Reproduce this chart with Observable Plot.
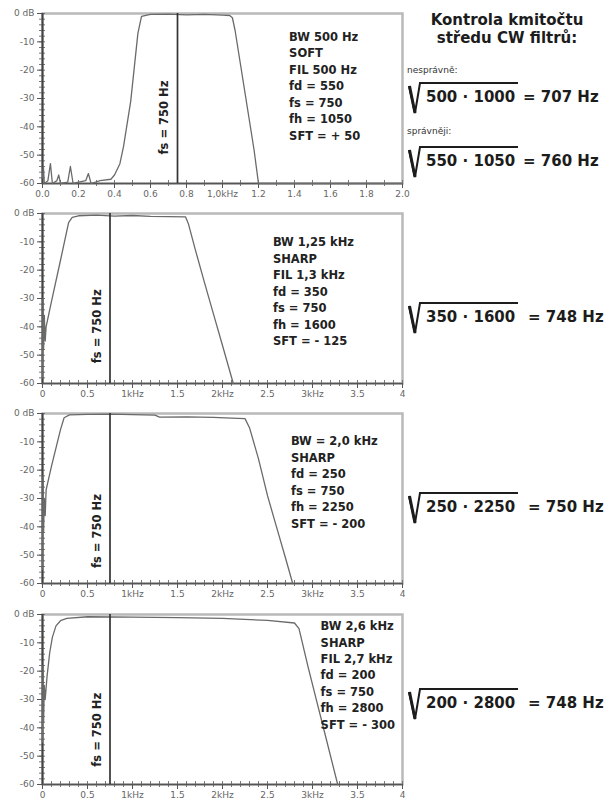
<!DOCTYPE html>
<html><head><meta charset="utf-8">
<script src="https://cdn.jsdelivr.net/npm/d3@7"></script>
<script src="https://cdn.jsdelivr.net/npm/@observablehq/plot@0.6"></script>
<style>
body{margin:0;background:#fff;}
#root{position:relative;width:614px;height:803px;overflow:hidden;font-family:"DejaVu Sans",sans-serif;color:#1c1c1c;}
.panel{position:absolute;left:0;}
.panel svg{display:block;}
.t{position:absolute;white-space:nowrap;}
</style></head><body><div id="root"></div>
<script>
// ---------- data ----------
const p1Freq = [0,0.005,0.01,0.03,0.044,0.055,0.08,0.09,0.1,0.14,0.155,0.17,0.2,0.24,0.255,0.27,0.32,0.38,0.40,0.43,0.45,0.49,0.51,0.53,0.55,0.6,0.7,0.8,0.9,1.0,1.04,1.055,1.07,1.10,1.145,1.175,1.2,2.0];
const p1dB   = [-58,-54,-60,-59,-53,-60,-59,-57,-60,-59.5,-54,-60,-59.5,-59,-56.5,-60,-59,-58.5,-57,-53,-47,-31,-19,-7,-1,-0.3,-0.2,-0.5,-0.3,-0.6,-0.7,-1.5,-6,-18,-36,-48,-60,-60];
const p2Freq = [0,0.005,0.012,0.02,0.03,0.04,0.1,0.2,0.29,0.33,0.4,0.6,0.8,1.0,1.2,1.4,1.59,1.62,1.7,1.8,1.9,2.0,2.12];
const p2dB   = [-58,-30,-48,-36,-45,-40,-31,-16.5,-3.2,-1.4,-0.8,-0.6,-0.9,-0.7,-1.0,-1.1,-1.2,-3.5,-13,-24.4,-35.5,-46.6,-60];
const p3Freq = [0,0.005,0.012,0.02,0.03,0.04,0.1,0.2,0.24,0.3,0.5,0.75,1.0,1.25,1.3,1.6,1.9,2.1,2.25,2.3,2.4,2.5,2.6,2.7,2.78];
const p3dB   = [-55,-22,-42,-30,-36,-27,-18.6,-5.7,-1.5,-0.5,-0.3,-0.2,-0.4,-0.6,-1.3,-1.2,-1.4,-1.6,-1.8,-5,-16,-29,-40,-51,-60];
const p4Freq = [0,0.005,0.012,0.02,0.03,0.05,0.08,0.11,0.15,0.2,0.27,0.5,1.0,1.5,2.0,2.5,2.8,2.85,2.95,3.05,3.15,3.28];
const p4dB   = [-45,-18,-38,-25,-30,-22,-13.5,-8,-4,-2.2,-1.4,-0.8,-0.9,-1.1,-1.4,-2.1,-3,-5,-18.4,-31,-43.6,-60];

const xTicksNarrow  = [0,0.2,0.4,0.6,0.8,1.0,1.2,1.4,1.6,1.8,2.0];
const xLabelsNarrow = ["0.0","0.2","0.4","0.6","0.8","1,0kHz","1.2","1.4","1.6","1.8","2.0"];
const xTicksWide    = [0,0.5,1,1.5,2,2.5,3,3.5,4];
const xLabelsWide   = ["0","0.5","1kHz","1.5","2kHz","2.5","3kHz","3.5","4"];
const yTicks        = [0,-10,-20,-30,-40,-50,-60];
const yLabels       = ["0 dB","-10","-20","-30","-40","-50","-60"];

const fsFreq = 0.75;
const fsLabel = "fs = 750 Hz";

const info1 = ["BW 500 Hz","SOFT","FIL 500 Hz","fd = 550","fs = 750","fh = 1050","SFT = + 50"];
const info2 = ["BW 1,25 kHz","SHARP","FIL 1,3 kHz","fd = 350","fs = 750","fh = 1600","SFT = - 125"];
const info3 = ["BW = 2,0 kHz","SHARP","fd = 250","fs = 750","fh = 2250","SFT = - 200"];
const info4 = ["BW 2,6 kHz","SHARP","FIL 2,7 kHz","fd = 200","fs = 750","fh = 2800","SFT = - 300"];

const titleLines = ["Kontrola kmitočtu","středu CW filtrů:"];
const noteWrong = "nesprávně:";
const noteBetter = "správněji:";
const rootA = ["500","550","350","250","200"];
const rootB = ["1000","1050","1600","2250","2800"];
const rootResult = ["707 Hz","760 Hz","748 Hz","750 Hz","748 Hz"];

// ---------- drawing ----------
const root = document.getElementById("root");
function lookup(ticks, labels){ return d => { const i = ticks.findIndex(t => Math.abs(t-d) < 1e-9); return i < 0 ? "" : labels[i]; }; }

function panel(cfg){
  const data = cfg.f.map((f,i)=>({f, db: cfg.d[i]}));
  const minorX = d3.range(0, cfg.xmax + 1e-9, 0.1);
  const minorY = d3.range(-60, 0.001, 2);
  const innerW = 410 - 42 - 8, innerH = 200 - 13 - 17;
  const svg = Plot.plot({
    width: 410, height: 200,
    marginLeft: 42, marginRight: 8, marginTop: 13, marginBottom: 17,
    style: {background: "transparent", fontFamily: "'DejaVu Sans', sans-serif", fontSize: "9px", color: "#555"},
    x: {domain: [0, cfg.xmax], label: null},
    y: {domain: [-60, 0], label: null},
    marks: [
      Plot.frame({stroke: "#b9b9b9", strokeWidth: 2.5}),
      Plot.axisX({ticks: minorX, tickSize: 3, tickFormat: () => "", stroke: "#777"}),
      Plot.tickX(minorX, {x: d => d, insetTop: innerH - 3, stroke: "#777"}),
      Plot.axisX({ticks: cfg.xTicks, tickSize: 5, tickPadding: 2, tickFormat: lookup(cfg.xTicks, cfg.xLabels), stroke: "#555", fill: "#666"}),
      Plot.axisY({ticks: minorY, tickSize: 3, tickFormat: () => "", stroke: "#777"}),
      Plot.tickY(minorY, {y: d => d, insetRight: innerW - 3, stroke: "#777"}),
      Plot.axisY({ticks: yTicks, tickSize: 5, tickPadding: 3, tickFormat: lookup(yTicks, yLabels), stroke: "#555", fill: "#666"}),
      Plot.ruleX([0], {stroke: "#444", strokeWidth: 2}),
      Plot.ruleY([-60], {stroke: "#555", strokeWidth: 1.5}),
      Plot.line(data, {x: "f", y: "db", stroke: "#6a6a6a", strokeWidth: 1.3}),
      Plot.ruleX([fsFreq], {stroke: "#333", strokeWidth: 1.7}),
      Plot.text([fsLabel], {x: fsFreq, y: cfg.fsY, rotate: -90, dx: -13, fontSize: 11.5, fontWeight: "bold", fill: "#222", fontFamily: "'DejaVu Sans', sans-serif"}),
      Plot.text([cfg.info.join("\n")], {x: cfg.infoX, y: cfg.infoY, textAnchor: "start", lineAnchor: "top", lineHeight: 1.43, fontSize: 11.5, fontWeight: "bold", fill: "#222", fontFamily: "'DejaVu Sans', sans-serif"})
    ]
  });
  const div = document.createElement("div");
  div.className = "panel";
  div.style.top = cfg.top + "px";
  div.appendChild(svg);
  root.appendChild(div);
}

panel({top: 0,   f: p1Freq, d: p1dB, xmax: 2, xTicks: xTicksNarrow, xLabels: xLabelsNarrow, fsY: -36.7, info: info1, infoX: 1.37, infoY: -5.6});
panel({top: 200, f: p2Freq, d: p2dB, xmax: 4, xTicks: xTicksWide, xLabels: xLabelsWide, fsY: -39.8, info: info2, infoX: 2.56, infoY: -7.5});
panel({top: 400, f: p3Freq, d: p3dB, xmax: 4, xTicks: xTicksWide, xLabels: xLabelsWide, fsY: -41.5, info: info3, infoX: 2.76, infoY: -7.1});
panel({top: 601, f: p4Freq, d: p4dB, xmax: 4, xTicks: xTicksWide, xLabels: xLabelsWide, fsY: -40.7, info: info4, infoX: 3.09, infoY: -1.4});

// ---------- right-hand text ----------
function addText(txt, left, top, css){
  const s = document.createElement("div");
  s.className = "t"; s.textContent = txt;
  s.style.left = left + "px"; s.style.top = top + "px";
  Object.assign(s.style, css || {});
  root.appendChild(s);
  return s;
}
const title = document.createElement("div");
title.className = "t";
Object.assign(title.style, {left: "400px", top: "11px", width: "214px", textAlign: "center", font: "bold 15px/18px 'DejaVu Sans', sans-serif", color: "#1c1c1c"});
title.innerHTML = titleLines.join("<br>");
root.appendChild(title);
addText(noteWrong, 407, 65, {font: "9px/11px 'DejaVu Sans', sans-serif", color: "#333"});
addText(noteBetter, 407, 126, {font: "9px/11px 'DejaVu Sans', sans-serif", color: "#333"});

const overY = [83, 147, 303, 493, 689];
const eqX = [523, 523, 528, 528, 528];
const ns = "http://www.w3.org/2000/svg";
const rs = document.createElementNS(ns, "svg");
rs.setAttribute("width", 614); rs.setAttribute("height", 803);
rs.style.position = "absolute"; rs.style.left = "0"; rs.style.top = "0";
root.appendChild(rs);
rootA.forEach((a, k) => {
  const yo = overY[k];
  const p1 = document.createElementNS(ns, "path");
  p1.setAttribute("d", `M409,${yo+3} L415,${yo+30} L420,${yo} H518`);
  p1.setAttribute("fill", "none"); p1.setAttribute("stroke", "#1c1c1c"); p1.setAttribute("stroke-width", "2");
  rs.appendChild(p1);
  const p2 = document.createElementNS(ns, "path");
  p2.setAttribute("d", `M409.5,${yo+3} L415,${yo+30}`);
  p2.setAttribute("stroke", "#1c1c1c"); p2.setAttribute("stroke-width", "3");
  rs.appendChild(p2);
  const css = {font: "bold 15px/18px 'DejaVu Sans', sans-serif", color: "#1c1c1c"};
  addText(`${a} · ${rootB[k]}`, 426, yo + 14 - 8.7, css);
  addText(`= ${rootResult[k]}`, eqX[k], yo + 14 - 8.7, css);
});
</script></body></html>
